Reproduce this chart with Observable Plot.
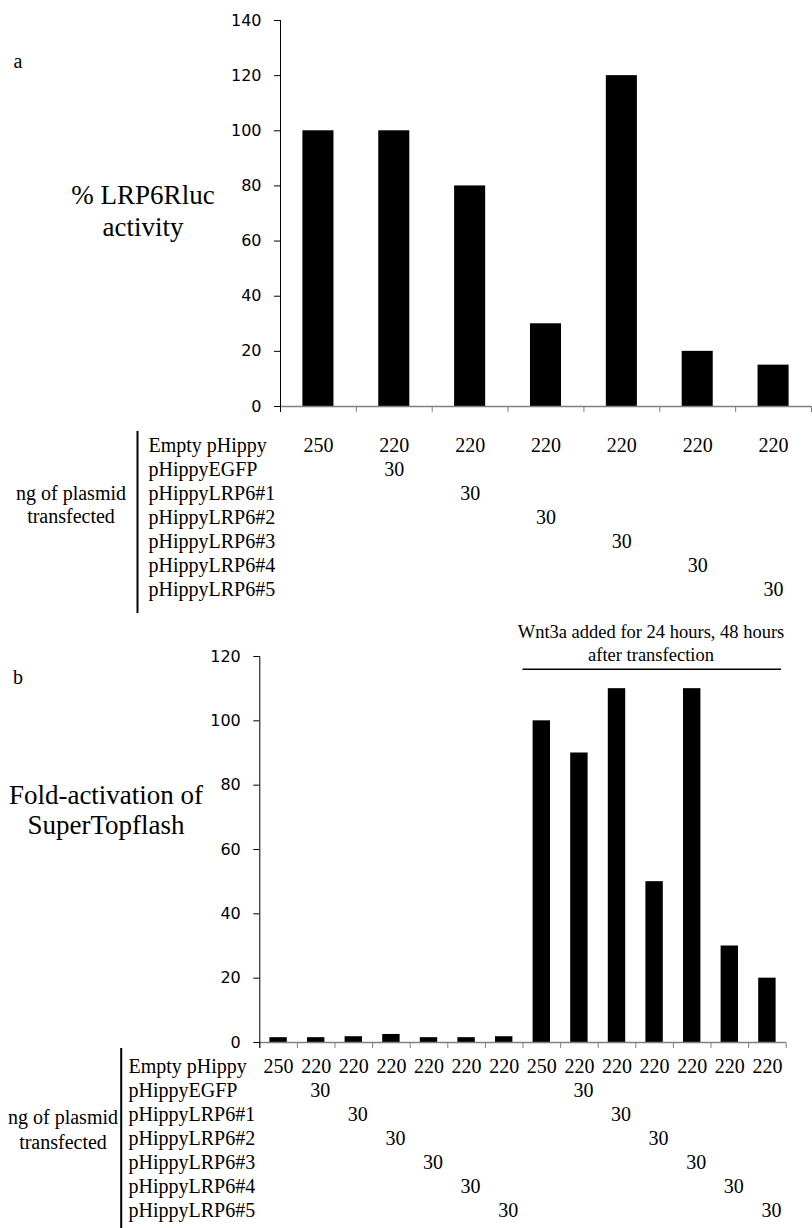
<!DOCTYPE html>
<html><head><meta charset="utf-8">
<script src="https://cdn.jsdelivr.net/npm/d3@7"></script>
<script src="https://cdn.jsdelivr.net/npm/@observablehq/plot@0.6"></script>
<style>
body{margin:0;background:#fff;}
#page{position:relative;width:812px;height:1228px;overflow:hidden;font-family:"Liberation Serif","Times New Roman",serif;color:#000;}
.blk{position:absolute;left:0;}
.lbl{position:absolute;text-align:center;white-space:nowrap;}
</style></head><body><div id="page"></div>
<script>
// ---------- data ----------
const rowLabels = ["Empty pHippy","pHippyEGFP","pHippyLRP6#1","pHippyLRP6#2","pHippyLRP6#3","pHippyLRP6#4","pHippyLRP6#5"];

// panel a
const activityA = [100, 100, 80, 30, 120, 20, 15];
const emptyAmtA = [250, 220, 220, 220, 220, 220, 220];
const extraPlasmidA = [null, "pHippyEGFP", "pHippyLRP6#1", "pHippyLRP6#2", "pHippyLRP6#3", "pHippyLRP6#4", "pHippyLRP6#5"];
const extraAmtA = [null, 30, 30, 30, 30, 30, 30];
const yTicksA = [0, 20, 40, 60, 80, 100, 120, 140];
const yLabelA = ["% LRP6Rluc", "activity"];

// panel b
const foldB = [1.5, 1.5, 1.8, 2.5, 1.5, 1.5, 1.8, 100, 90, 110, 50, 110, 30, 20];
const emptyAmtB = [250, 220, 220, 220, 220, 220, 220, 250, 220, 220, 220, 220, 220, 220];
const extraPlasmidB = [null, "pHippyEGFP", "pHippyLRP6#1", "pHippyLRP6#2", "pHippyLRP6#3", "pHippyLRP6#4", "pHippyLRP6#5",
                       null, "pHippyEGFP", "pHippyLRP6#1", "pHippyLRP6#2", "pHippyLRP6#3", "pHippyLRP6#4", "pHippyLRP6#5"];
const extraAmtB = [null, 30, 30, 30, 30, 30, 30, null, 30, 30, 30, 30, 30, 30];
const wnt3aB = [false, false, false, false, false, false, false, true, true, true, true, true, true, true];
const yTicksB = [0, 20, 40, 60, 80, 100, 120];
const yLabelB = ["Fold-activation of", "SuperTopflash"];
const wntNote = ["Wnt3a added for 24 hours, 48 hours", "after transfection"];
const wntBracketLevel = 116;
const tableTitle = ["ng of plasmid", "transfected"];

// ---------- helpers ----------
const SERIF = "Liberation Serif, Times New Roman, serif";
const SANS = "DejaVu Sans, Verdana, sans-serif";
const page = document.getElementById("page");

function place(node, top) {
  const d = document.createElement("div");
  d.className = "blk";
  d.style.top = top + "px";
  d.appendChild(node);
  page.appendChild(d);
}
function label(lines, o) {
  const d = document.createElement("div");
  d.className = "lbl";
  d.style.width = o.w + "px";
  d.style.left = (o.cx - o.w / 2) + "px";
  d.style.top = o.top + "px";
  d.style.fontSize = o.fs + "px";
  d.style.lineHeight = o.lh + "px";
  d.innerHTML = lines.map(t => t.replace(/&/g, "&amp;").replace(/</g, "&lt;")).join("<br>");
  page.appendChild(d);
}

function barChart(values, yTicks, o) {
  const data = values.map((v, i) => ({i, v}));
  const n = values.length;
  return Plot.plot({
    width: 812, height: o.height,
    marginTop: o.mt, marginBottom: o.mb, marginLeft: o.ml, marginRight: o.mr,
    x: {domain: [0, n]},
    y: {domain: [0, yTicks[yTicks.length - 1]]},
    style: {background: "transparent", overflow: "visible", color: "black"},
    marks: [
      Plot.rectY(data, {x1: "i", x2: d => d.i + 1, y: "v", fill: "black", insetLeft: o.inset, insetRight: o.inset}),
      Plot.ruleY([0], {stroke: "#808080", strokeWidth: 1.5}),
      Plot.axisX({ticks: d3.range(n + 1), tickSize: 6, tickFormat: () => "", stroke: "#808080", label: null}),
      Plot.ruleX([0], {stroke: "black", insetBottom: -6}),
      Plot.axisY({ticks: yTicks, tickSize: 6, tickPadding: 13, label: null, fontSize: 16, fontFamily: SANS, tickFormat: d => String(d)}),
      ...(o.extra || [])
    ]
  });
}

function table(emptyAmt, extraPlasmid, extraAmt, o) {
  const n = emptyAmt.length;
  const header = emptyAmt.map((a, i) => ({i, a}));
  const extras = extraPlasmid.map((p, i) => ({i, p, a: extraAmt[i]})).filter(d => d.p);
  return Plot.plot({
    width: 812, height: o.height,
    marginTop: o.mt, marginBottom: o.mb, marginLeft: o.ml, marginRight: o.mr,
    x: {domain: [0, n], axis: null},
    y: {domain: rowLabels, type: "band", padding: 0, axis: null},
    style: {background: "transparent", overflow: "visible", color: "black"},
    marks: [
      Plot.text(header, {x: d => d.i + 0.5, y: () => rowLabels[0], text: d => String(d.a), fontSize: 20, fontFamily: SERIF}),
      Plot.text(extras, {x: d => d.i + 0.5, y: "p", text: d => String(d.a), fontSize: 20, fontFamily: SERIF, dx: o.edx}),
      Plot.text(rowLabels, {y: d => d, text: d => d, frameAnchor: "left", textAnchor: "start", dx: o.labelDx, fontSize: 20, fontFamily: SERIF}),
      Plot.ruleX([0], {dx: o.lineDx, insetTop: o.lineTop, insetBottom: o.lineBottom, stroke: "black", strokeWidth: 2})
    ]
  });
}

// ---------- panel a ----------
place(barChart(activityA, yTicksA, {height: 416, mt: 20, mb: 10, ml: 280, mr: 1, inset: 22.4}), 0);
place(table(emptyAmtA, extraPlasmidA, extraAmtA, {height: 200, mt: 13, mb: 19, ml: 280, mr: 1, edx: 0, labelDx: -132, lineDx: -143, lineTop: -2, lineBottom: -12}), 420);
label(["a"], {cx: 18, w: 20, top: 51, fs: 20, lh: 20});
label(yLabelA, {cx: 143, w: 240, top: 179, fs: 27, lh: 32});
label(tableTitle, {cx: 71, w: 140, top: 481.5, fs: 20, lh: 23});

// ---------- panel b ----------
const wFirst = wnt3aB.indexOf(true);
const wLast = wnt3aB.lastIndexOf(true);
place(barChart(foldB, yTicksB, {height: 432, mt: 36, mb: 10, ml: 259.3, mr: 26.3, inset: 10.1,
  extra: [Plot.ruleY([wntBracketLevel], {x1: wFirst, x2: wLast + 1, insetRight: 4.7, stroke: "black", strokeWidth: 1.5})]}), 620);
place(table(emptyAmtB, extraPlasmidB, extraAmtB, {height: 176, mt: 0, mb: 4, ml: 259.3, mr: 26.3, edx: 4, labelDx: -131.3, lineDx: -138.6, lineTop: -4, lineBottom: -4}), 1052);
label(["b"], {cx: 18, w: 20, top: 667, fs: 20, lh: 20});
label(yLabelB, {cx: 106, w: 240, top: 780, fs: 27, lh: 30});
label(tableTitle, {cx: 63, w: 140, top: 1104.5, fs: 20, lh: 25});
label(wntNote, {cx: 651, w: 320, top: 620.5, fs: 18.5, lh: 23});
</script></body></html>
